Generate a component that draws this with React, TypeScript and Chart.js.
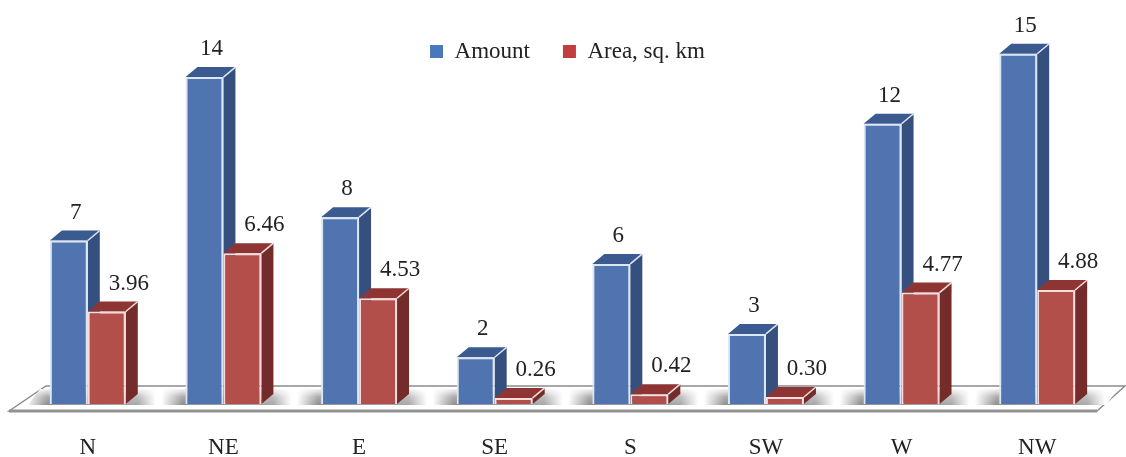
import React, { useEffect, useRef } from "react";
import { Chart, registerables } from "chart.js";

Chart.register(...registerables);

const categories = ["N", "NE", "E", "SE", "S", "SW", "W", "NW"];
const amountValues = [7, 14, 8, 2, 6, 3, 12, 15];
const areaValues = [3.96, 6.46, 4.53, 0.26, 0.42, 0.3, 4.77, 4.88];
const areaLabels = ["3.96", "6.46", "4.53", "0.26", "0.42", "0.30", "4.77", "4.88"];

const FONT = '"Liberation Serif", serif';
const TEXT = "#222222";
const DX = 12;
const DY = 10;

const palette = [
  { front: "#5074b0", side: "#35507f", top: "#3b5b90", edge: "#dde6f4", legend: "#4a78bd" },
  { front: "#b34f4b", side: "#742c2b", top: "#8e3533", edge: "#f6dcdc", legend: "#c23d3e" },
];

const poly = (ctx: CanvasRenderingContext2D, pts: number[][]) => {
  ctx.beginPath();
  pts.forEach(([x, y], i) => (i ? ctx.lineTo(x, y) : ctx.moveTo(x, y)));
  ctx.closePath();
};

const floorPlugin = {
  id: "floorAndDepth",
  afterInit(chart: any) {
    // the legend floats over the plot and takes no room from it
    const legend = chart.legend;
    const fit = legend.fit;
    legend.fit = function () {
      fit.call(this);
      this.height = 0;
    };
  },
  afterLayout(chart: any) {
    const legend = chart.legend;
    legend.left += 5;
    legend.right += 5;
    legend.height = 80;
    legend.bottom = legend.top + 80;
  },
  beforeDatasetsDraw(chart: any) {
    const { ctx, chartArea } = chart;
    const base = chart.scales.y.getPixelForValue(0);
    const left = chartArea.left;
    const right = chartArea.right;
    const frontY = base + 7;
    const backY = base - 18;
    ctx.save();
    // floor slab
    poly(ctx, [
      [left - 11, frontY],
      [left + 26, backY],
      [right + 20, backY],
      [right - 8, frontY],
    ]);
    ctx.fillStyle = "#ffffff";
    ctx.fill();
    ctx.lineWidth = 1.5;
    ctx.strokeStyle = "#8c8c8c";
    ctx.stroke();
    ctx.beginPath();
    ctx.moveTo(left - 11, frontY);
    ctx.lineTo(right - 8, frontY);
    ctx.lineWidth = 3;
    ctx.strokeStyle = "#929292";
    ctx.stroke();
    // soft shadows around the bars
    const m0 = chart.getDatasetMeta(0).data;
    const m1 = chart.getDatasetMeta(1).data;
    const x0 = left - 4;
    const x1 = right + 14;
    const g = ctx.createLinearGradient(x0, 0, x1, 0);
    const stop = (x: number, c: string) => g.addColorStop(Math.min(1, Math.max(0, (x - x0) / (x1 - x0))), c);
    m0.forEach((bar: any, i: number) => {
      const l = bar.x - bar.width / 2;
      const r = m1[i].x + m1[i].width / 2 + DX;
      stop(l - 24, "#ffffff");
      stop(l - 3, "#8f8f8f");
      stop(r, "#a8a8a8");
      stop(r + 18, "#ffffff");
    });
    poly(ctx, [
      [left + 8, base + 1],
      [left + 20, backY + 3],
      [right + 13, backY + 3],
      [right + 1, base + 1],
    ]);
    ctx.fillStyle = g;
    ctx.fill();
    // fade the far edge of the shadow
    const v = ctx.createLinearGradient(0, backY + 3, 0, base + 1);
    v.addColorStop(0, "rgba(255,255,255,0.9)");
    v.addColorStop(0.5, "rgba(255,255,255,0.25)");
    v.addColorStop(1, "rgba(255,255,255,0)");
    ctx.fillStyle = v;
    ctx.fill();
    // 3D sides and tops of the bars
    [m0, m1].forEach((bars: any[], d: number) => {
      const c = palette[d];
      bars.forEach((bar: any) => {
        const l = bar.x - bar.width / 2;
        const r = bar.x + bar.width / 2;
        const t = bar.y;
        const b = bar.base;
        poly(ctx, [
          [r, t],
          [r + DX, t - DY],
          [r + DX, b - DY],
          [r, b],
        ]);
        ctx.fillStyle = c.side;
        ctx.fill();
        poly(ctx, [
          [l, t],
          [l + DX, t - DY],
          [r + DX, t - DY],
          [r, t],
        ]);
        ctx.fillStyle = c.top;
        ctx.fill();
        ctx.beginPath();
        ctx.moveTo(r, t);
        ctx.lineTo(r + DX, t - DY);
        ctx.lineWidth = 1.5;
        ctx.strokeStyle = c.edge;
        ctx.stroke();
      });
    });
    ctx.restore();
  },
  afterDatasetsDraw(chart: any) {
    const { ctx } = chart;
    ctx.save();
    ctx.font = `23px ${FONT}`;
    ctx.fillStyle = TEXT;
    ctx.textAlign = "center";
    ctx.textBaseline = "middle";
    chart.getDatasetMeta(0).data.forEach((bar: any, i: number) => {
      ctx.fillText(String(amountValues[i]), bar.x + 7, bar.y - 28);
    });
    chart.getDatasetMeta(1).data.forEach((bar: any, i: number) => {
      ctx.fillText(areaLabels[i], bar.x + 22, bar.y - 28);
    });
    ctx.restore();
  },
};

export default function App() {
  const ref = useRef<HTMLCanvasElement>(null);
  useEffect(() => {
    const chart = new Chart(ref.current as HTMLCanvasElement, {
      type: "bar",
      data: {
        labels: categories,
        datasets: [
          {
            label: "Amount",
            data: amountValues,
            backgroundColor: palette[0].front,
            borderColor: palette[0].edge,
            borderWidth: 2,
          },
          {
            label: "Area, sq. km",
            data: areaValues,
            backgroundColor: palette[1].front,
            borderColor: palette[1].edge,
            borderWidth: 2,
          },
        ],
      },
      options: {
        responsive: false,
        animation: false,
        layout: { padding: { top: 7, left: 20, right: 21, bottom: 0 } },
        datasets: { bar: { categoryPercentage: 0.56, barPercentage: 1 } },
        plugins: {
          tooltip: { enabled: false },
          legend: {
            position: "top",
            align: "center",
            labels: {
              boxWidth: 13,
              boxHeight: 13,
              padding: 33,
              color: TEXT,
              font: { family: FONT, size: 23 },
              generateLabels: (c: any) =>
                c.data.datasets.map((ds: any, i: number) => ({
                  text: ds.label,
                  fillStyle: palette[i].legend,
                  strokeStyle: palette[i].legend,
                  lineWidth: 0,
                  fontColor: TEXT,
                  datasetIndex: i,
                })),
            },
          },
        },
        scales: {
          x: {
            grid: { display: false, drawTicks: false },
            border: { display: false },
            afterFit: (s: any) => {
              s.height = 53;
            },
            ticks: {
              autoSkip: false,
              maxRotation: 0,
              padding: 32,
              color: TEXT,
              font: { family: FONT, size: 23, lineHeight: 1 },
            },
          },
          y: { display: false, min: 0, max: 17 },
        },
      },
      plugins: [floorPlugin],
    } as any);
    return () => chart.destroy();
  }, []);
  return (
    <canvas
      ref={ref}
      width={1126}
      height={457}
      style={{ position: "absolute", left: 0, top: 0, display: "block" }}
    />
  );
}
